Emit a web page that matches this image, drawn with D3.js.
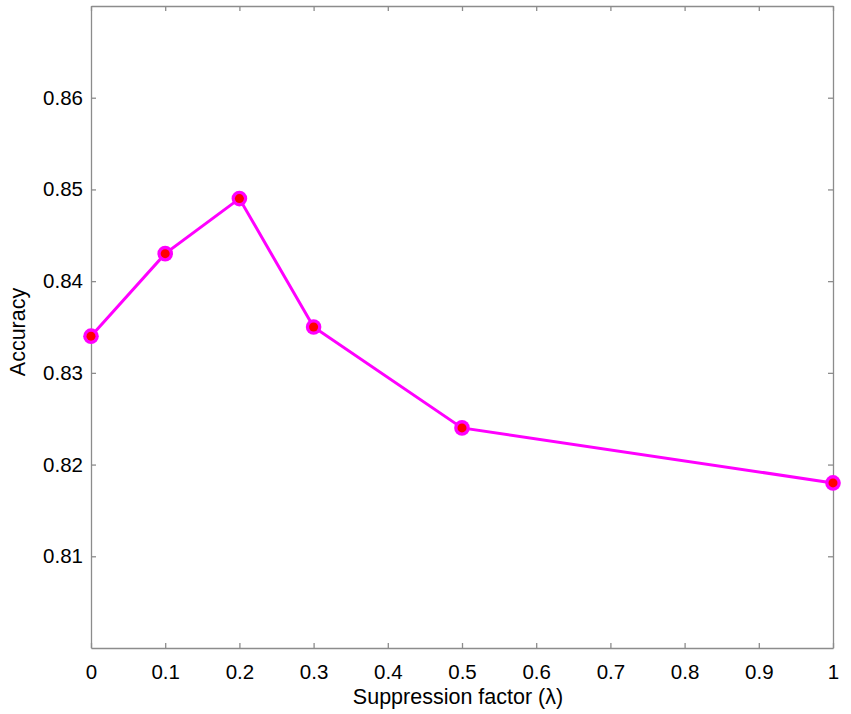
<!DOCTYPE html>
<html>
<head>
<meta charset="utf-8">
<script src="https://cdn.jsdelivr.net/npm/d3@7"></script>
<style>
  body { margin: 0; background: #fff; }
  text { font-family: "Liberation Sans", Arial, sans-serif; fill: #000; }
</style>
</head>
<body>
<div id="chart"></div>
<script>
// data
var lambdas = [0, 0.1, 0.2, 0.3, 0.5, 1];
var accuracy = [0.834, 0.843, 0.849, 0.835, 0.824, 0.818];
var xTicks = [0, 0.1, 0.2, 0.3, 0.4, 0.5, 0.6, 0.7, 0.8, 0.9, 1];
var yTicks = [0.81, 0.82, 0.83, 0.84, 0.85, 0.86];

var width = 851, height = 714;
var margin = {top: 6, right: 18, bottom: 66, left: 91};

var svg = d3.select("#chart").append("svg")
    .attr("width", width)
    .attr("height", height);

var x = d3.scaleLinear().domain([0, 1]).range([margin.left, width - margin.right]);
var y = d3.scaleLinear().domain([0.80, 0.87]).range([height - margin.bottom, margin.top]);

var axisColor = "#8c8c8c";
var tickLen = 5;

// axes: ticks point inward, mirrored on top and right
var gx = svg.append("g")
    .attr("transform", "translate(0," + (height - margin.bottom) + ")")
    .call(d3.axisBottom(x).tickValues(xTicks).tickSizeInner(-tickLen).tickSizeOuter(0)
        .tickPadding(16).tickFormat(d3.format("")));
var gxTop = svg.append("g")
    .attr("transform", "translate(0," + margin.top + ")")
    .call(d3.axisTop(x).tickValues(xTicks).tickSizeInner(-tickLen).tickSizeOuter(0).tickFormat(""));
var gy = svg.append("g")
    .attr("transform", "translate(" + margin.left + ",0)")
    .call(d3.axisLeft(y).tickValues(yTicks).tickSizeInner(-tickLen).tickSizeOuter(0)
        .tickPadding(8).tickFormat(d3.format(".2f")));
var gyRight = svg.append("g")
    .attr("transform", "translate(" + (width - margin.right) + ",0)")
    .call(d3.axisRight(y).tickValues(yTicks).tickSizeInner(-tickLen).tickSizeOuter(0).tickFormat(""));

[gx, gxTop, gy, gyRight].forEach(function(g) {
  g.selectAll("path").attr("stroke", axisColor).attr("stroke-width", 1.3);
  g.selectAll("line").attr("stroke", axisColor).attr("stroke-width", 1.3);
  g.selectAll("text").style("font-size", "20.5px").attr("fill", "#000")
      .style("font-family", "'Liberation Sans', Arial, sans-serif");
});

// data line
var pts = lambdas.map(function(l, i) { return {x: l, y: accuracy[i]}; });
var line = d3.line()
    .x(function(d) { return x(d.x); })
    .y(function(d) { return y(d.y); });

svg.append("path")
    .datum(pts)
    .attr("d", line)
    .attr("fill", "none")
    .attr("stroke", "#ff00ff")
    .attr("stroke-width", 3);

var marks = svg.append("g").selectAll("g")
    .data(pts)
    .enter().append("g")
    .attr("transform", function(d) { return "translate(" + x(d.x) + "," + y(d.y) + ")"; });
marks.append("circle").attr("r", 7.8).attr("fill", "#ff00ff");
marks.append("circle").attr("r", 4.5).attr("fill", "#ff0000");

// axis titles
svg.append("text")
    .attr("x", 458)
    .attr("y", 704)
    .attr("text-anchor", "middle")
    .style("font-size", "21.5px")
    .text("Suppression factor (\u03bb)");

svg.append("text")
    .attr("transform", "translate(25,332) rotate(-90)")
    .attr("text-anchor", "middle")
    .style("font-size", "21.5px")
    .text("Accuracy");
</script>
</body>
</html>
